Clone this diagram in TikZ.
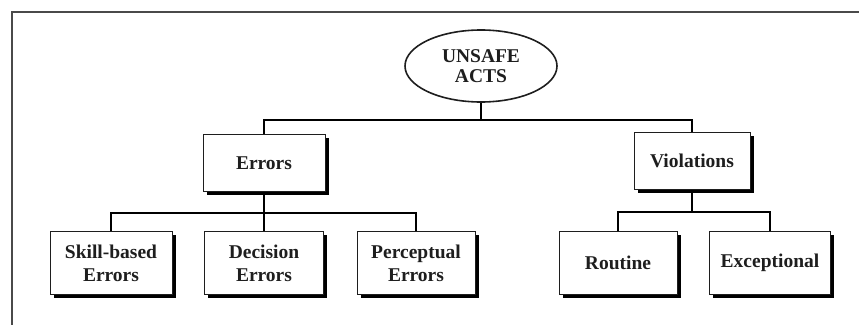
\documentclass[tikz,border=0pt]{standalone}
\usepackage{fontspec}
\setmainfont{Liberation Serif}
\usetikzlibrary{shapes.geometric,shadows}
\definecolor{framegray}{HTML}{4A4A4A}
\definecolor{inkgray}{HTML}{1E1E1E}
\begin{document}
\begin{tikzpicture}[x=1pt,y=-1pt,
  label font/.style={font=\fontsize{19.5}{23}\selectfont\bfseries, text=inkgray, align=center},
  catbox/.style={label font, draw=inkgray, line width=1pt, fill=white, inner sep=0pt,
    rectangle, minimum width=#1, minimum height=57,
    drop shadow={shadow xshift=3.5pt, shadow yshift=-3.5pt, fill=black, opacity=1}},
  leafbox/.style={catbox=#1, minimum height=63},
  rootnode/.style={label font, font=\fontsize{19.5}{20}\selectfont\bfseries, ellipse, draw=inkgray,
    line width=1.6pt, fill=white, inner sep=0pt, minimum width=152, minimum height=72},
  link/.style={draw=black, line width=1.8pt}]
\useasboundingbox (0,0) rectangle (859,324);
% outer frame, running off the right and bottom edges
\draw[framegray, line width=2pt] (12,330) -- (12,12) -- (870,12);

% root
\node[rootnode] (ua) at (481,66) {UNSAFE\\ACTS};

% categories
\node[catbox=122] (err) at (264,163) {Errors};
\node[catbox=116] (vio) at (692,161) {Violations};

% error types
\node[leafbox=122] (skill) at (111,263) {Skill-based\\Errors};
\node[leafbox=119] (dec)   at (264,263) {Decision\\Errors};
\node[leafbox=118] (perc)  at (416,263) {Perceptual\\Errors};

% violation types
\node[leafbox=118] (rout) at (618,263) {Routine};
\node[leafbox=121] (exc)  at (770,263) {Exceptional};

% bar levels
\coordinate (topbar) at (0,120);
\coordinate (errbar) at (0,213);
\coordinate (viobar) at (0,212);

% connectors
\draw[link] (ua.south) -- (ua.south |- topbar);
\draw[link] (err.north) -- (err.north |- topbar) -| (vio.north);
\draw[link] (err.south) -- (dec.north);
\draw[link] (skill.north) -- (skill.north |- errbar) -| (perc.north);
\draw[link] (vio.south) -- (vio.south |- viobar);
\draw[link] (rout.north) -- (rout.north |- viobar) -| (exc.north);
\end{tikzpicture}
\end{document}
